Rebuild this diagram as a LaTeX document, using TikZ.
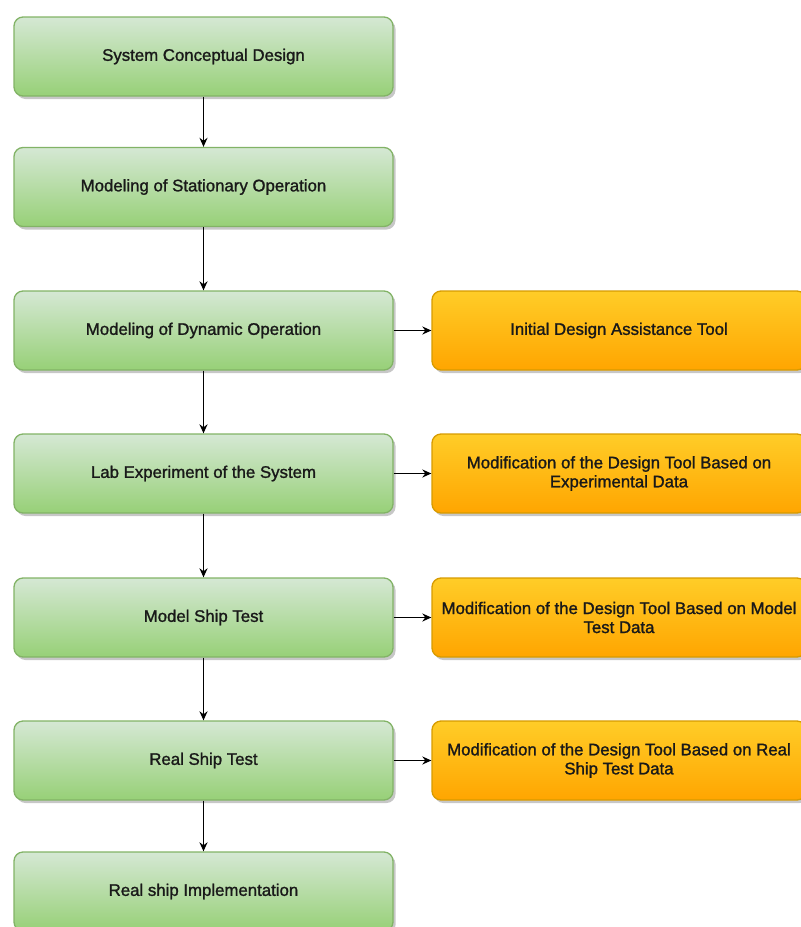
\documentclass[tikz,border=0pt]{standalone}
\usepackage{fontspec}
\setmainfont{Liberation Sans}
\newfontfamily\labelfont{Liberation Sans}[FakeBold=1.3]
\usetikzlibrary{arrows.meta,shadows}

\definecolor{greenTop}{HTML}{D5E8D4}
\definecolor{greenBot}{HTML}{97D077}
\definecolor{greenLine}{HTML}{82B366}
\definecolor{orangeTop}{HTML}{FFCD28}
\definecolor{orangeBot}{HTML}{FFA500}
\definecolor{orangeLine}{HTML}{D79B00}

\tikzset{
  box/.style={rounded corners=9pt, line width=1.3pt, align=center,
    font=\labelfont\fontsize{16.8}{19}\selectfont, text=black!90,
    minimum height=79pt, inner sep=0pt,
    drop shadow={shadow xshift=2.5pt, shadow yshift=-3pt, fill=black, opacity=0.22}},
  stage/.style={box, draw=greenLine, top color=greenTop, bottom color=greenBot,
    minimum width=379pt},
  update/.style={box, draw=orangeLine, top color=orangeTop, bottom color=orangeBot,
    minimum width=374pt},
  flow/.style={line width=1.8pt, -{Stealth[length=9pt,width=8pt]}}
}

\begin{document}
\begin{tikzpicture}[x=1pt,y=-1pt]
  \useasboundingbox (0,0) rectangle (801,927);
  \clip (0,0) rectangle (801,927);

  % main development sequence
  \node[stage] (s1) at (203.5,56.5)  {System Conceptual Design};
  \node[stage] (s2) at (203.5,187)   {Modeling of Stationary Operation};
  \node[stage] (s3) at (203.5,330.5) {Modeling of Dynamic Operation};
  \node[stage] (s4) at (203.5,473.5) {Lab Experiment of the System};
  \node[stage] (s5) at (203.5,617.5) {Model Ship Test};
  \node[stage] (s6) at (203.5,760.5) {Real Ship Test};
  \node[stage] (s7) at (203.5,891.5) {Real ship Implementation};

  % design tool refinements
  \node[update] (t3) at (619,330.5) {Initial Design Assistance Tool};
  \node[update] (t4) at (619,473.5) {Modification of the Design Tool Based on\\Experimental Data};
  \node[update] (t5) at (619,617.5) {Modification of the Design Tool Based on Model\\Test Data};
  \node[update] (t6) at (619,760.5) {Modification of the Design Tool Based on Real\\Ship Test Data};

  \foreach \a/\b in {s1/s2,s2/s3,s3/s4,s4/s5,s5/s6,s6/s7}
    \draw[flow] (\a) -- (\b);
  \foreach \n in {3,4,5,6}
    \draw[flow] (s\n) -- (t\n);
\end{tikzpicture}
\end{document}
